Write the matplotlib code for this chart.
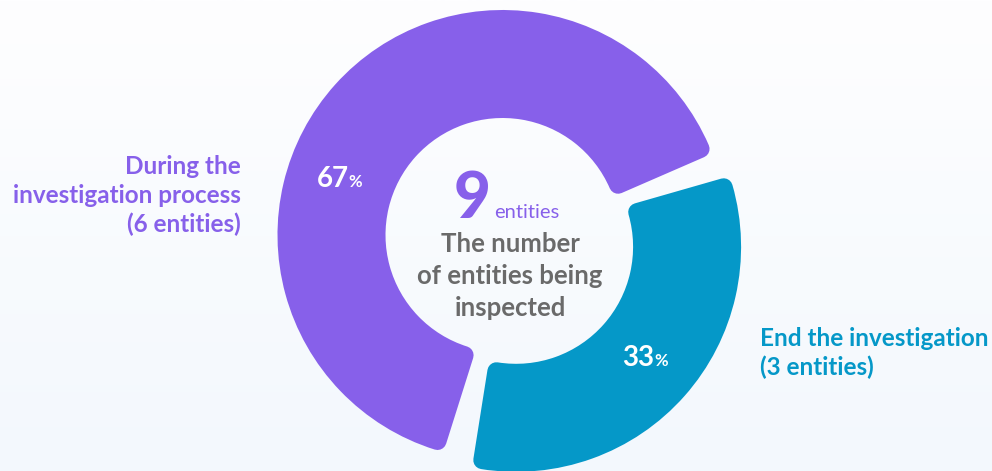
import numpy as np
import matplotlib.pyplot as plt
from matplotlib.colors import LinearSegmentedColormap

labels = ['During the\ninvestigation process\n(6 entities)',
          'End the investigation\n(3 entities)']
counts = [6, 3]
colors = ['#8760EA', '#0598C8']
center_title = 'The number\nof entities being\ninspected'
unit = 'entities'

total = sum(counts)
percents = [round(100 * c / total) for c in counts]

plt.rcParams['font.family'] = ['Lato', 'DejaVu Sans']

W, H = 992, 471
fig = plt.figure(figsize=(W / 100, H / 100), dpi=100)
ax = fig.add_axes([0, 0, 1, 1])

# soft background gradient
bg = LinearSegmentedColormap.from_list('bg', ['#F3F8FD', '#FEFEFF'])
ax.imshow(np.linspace(0, 1, 256).reshape(-1, 1), cmap=bg, extent=(0, W, 0, H),
          origin='lower', aspect='auto', zorder=0)

cx, cy = 502.5, H - 235
R, ring = 225, 108
pad = 9  # rounded corners
wedges, _ = ax.pie(counts, colors=colors, startangle=19, counterclock=True,
                   radius=R - pad, center=(cx, cy), explode=[0, 18], frame=True,
                   wedgeprops=dict(width=ring - 2 * pad, linewidth=2 * pad * 0.72,
                                   joinstyle='round'))
trims = [(4.5, 6.5), (2, 3)]
for w, (t1, t2) in zip(wedges, trims):
    w.set_edgecolor(w.get_facecolor())
    w.set_theta1(w.theta1 + t1)
    w.set_theta2(w.theta2 - t2)
    w.set_zorder(2)

ax.set_xlim(0, W)
ax.set_ylim(0, H)
ax.axis('off')

# percentage labels on the ring
mid = R - ring / 2
pct_angles = [161, -40.5]
for w, p, a in zip(wedges, percents, pct_angles):
    px = w.center[0] + mid * np.cos(np.radians(a))
    py = w.center[1] + mid * np.sin(np.radians(a))
    ax.text(px + 8, py, str(p), color='white', fontsize=20, fontweight='bold',
            ha='right', va='center', zorder=3)
    ax.text(px + 8, py - 3, '%', color='white', fontsize=12, fontweight='bold',
            ha='left', va='center', zorder=3)

# centre text
ax.text(472, H - 200, str(total), color=colors[0], fontsize=46, fontweight='black',
        ha='center', va='center', zorder=3)
ax.text(494, H - 213, unit, color=colors[0], fontsize=14.5,
        ha='left', va='center', zorder=3)
ax.text(510, H - 276, center_title, color='#6A6A6A', fontsize=18.5, fontweight='bold',
        ha='center', va='center', linespacing=1.38, zorder=3)

# category labels
ax.text(241, H - 196, labels[0], color=colors[0], fontsize=17.5, fontweight='bold',
        ha='right', va='center', linespacing=1.3, zorder=3)
ax.text(760, H - 353, labels[1], color=colors[1], fontsize=17.5, fontweight='bold',
        ha='left', va='center', linespacing=1.3, zorder=3)

fig.savefig('out.png', dpi=100)
